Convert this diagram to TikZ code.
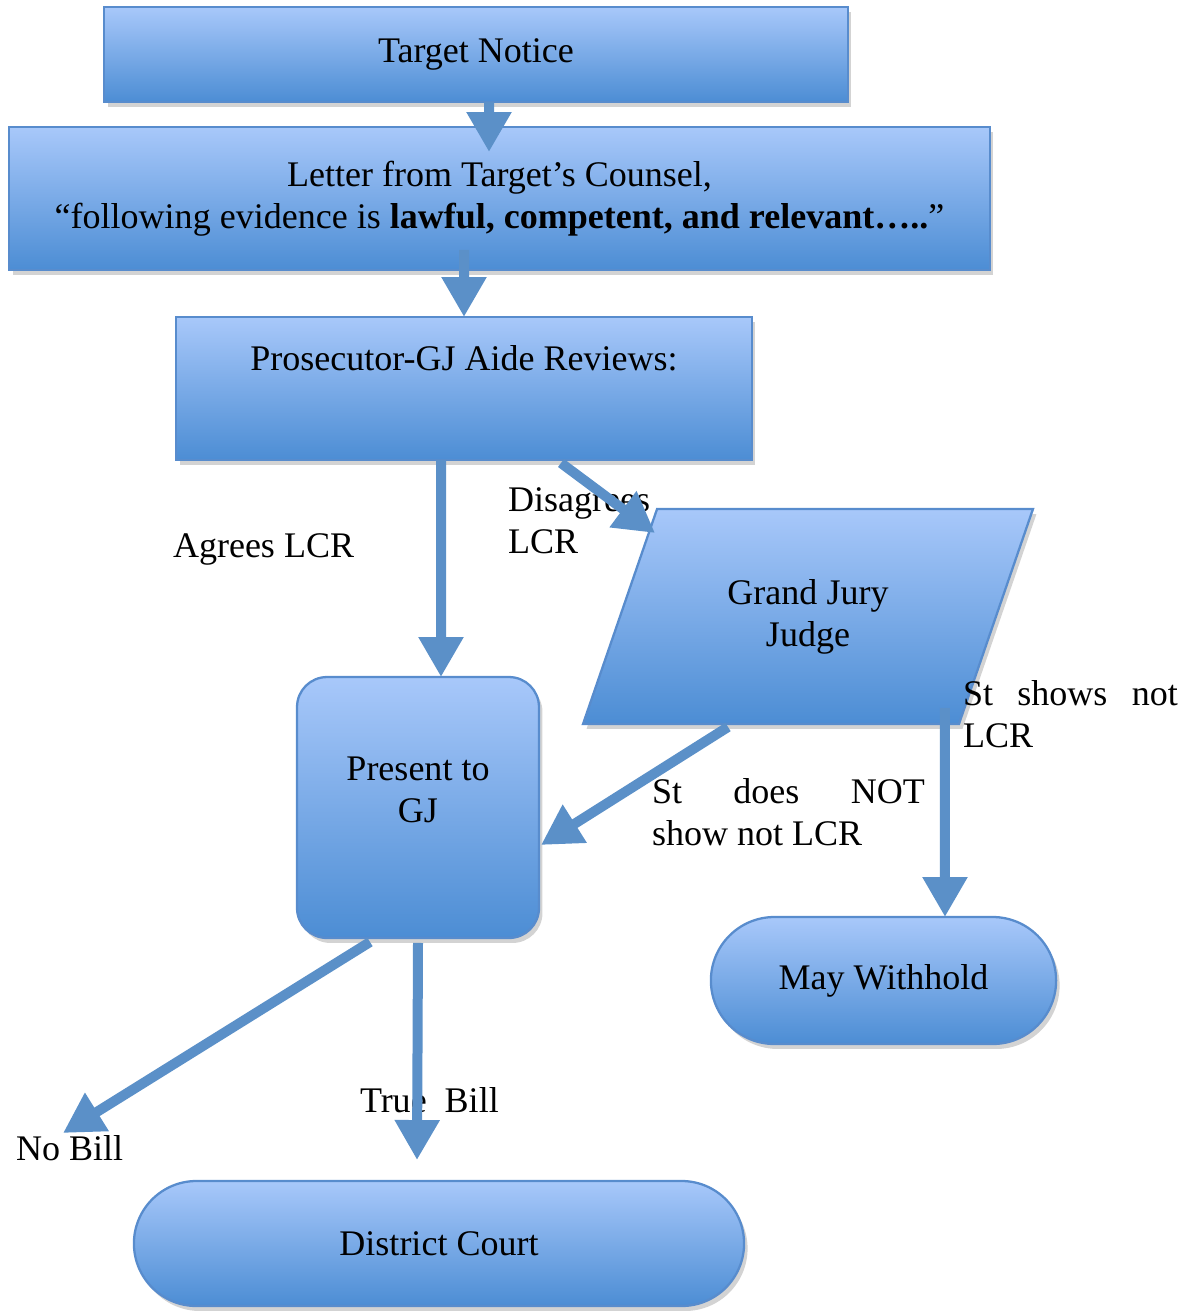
\documentclass[tikz,border=0pt]{standalone}
\usepackage{fontspec}
\setmainfont{Liberation Serif}
\usepackage{xcolor}
\usepackage{tikz}
\usetikzlibrary{shapes,arrows,positioning,calc,shadows,arrows.meta}

\definecolor{boxtop}{RGB}{168,200,250}
\definecolor{boxbot}{RGB}{76,141,212}
\definecolor{boxline}{RGB}{88,140,205}
\definecolor{flowblue}{RGB}{91,144,200}

\begin{document}
\begin{tikzpicture}[
    x=0.02cm, y=-0.02cm,
    outer sep=0pt,
    every node/.style={font=\fontsize{20.5}{24}\selectfont},
    box/.style={draw=boxline, line width=1.3pt, top color=boxtop, bottom color=boxbot, align=center,
        drop shadow={shadow xshift=0.07cm, shadow yshift=-0.1cm, opacity=0.35}},
    flow/.style={draw=flowblue, line width=0.2cm, -{Triangle[width=0.85cm, length=0.8cm]}},
    lbl/.style={anchor=west, inner sep=0pt}
]
    \useasboundingbox (0,0) rectangle (1195,1311);

    % boxes
    \node [box, minimum width=14.88cm, minimum height=1.9cm] (notice) at (476,54.5) {Target Notice};
    \node [box, minimum width=19.62cm, minimum height=2.86cm] (letter) at (499.5,198.5)
        {Letter from Target’s Counsel,\\“following evidence is \textbf{lawful, competent, and relevant…..}”};
    \node [box, minimum width=11.52cm, minimum height=2.86cm] (review) at (464,388.5)
        {Prosecutor-GJ Aide Reviews:\\[4pt]\strut};
    \node [box, trapezium, trapezium left angle=71, trapezium right angle=109, trapezium stretches body,
        minimum width=9cm, inner ysep=1.4cm] (gj) at (808,616.5) {Grand Jury\\Judge};
    \node [box, rounded corners=0.6cm, minimum width=4.84cm, minimum height=5.22cm] (present) at (418,807.5)
        {Present to\\GJ\\[-11pt]\strut};
    \node [box, rounded rectangle, minimum width=7.14cm, minimum height=2.54cm] (withhold) at (883.5,980.5)
        {May Withhold};
    \node [box, rounded rectangle, minimum width=12.44cm, minimum height=2.5cm] (district) at (439,1243.5)
        {District Court};

    % labels
    \node [lbl] (agrees) at (173,549) {Agrees LCR};
    \node [lbl, align=left] (disagrees) at (508,521) {Disagrees\\LCR};
    \node [lbl, align=justify, text width=4.3cm] (stshows) at (963,714) {St shows not\linebreak LCR};
    \node [lbl, align=justify, text width=5.46cm] (stdoes) at (652,812) {St does NOT\linebreak show not LCR};
    \node [lbl] (nobill) at (16,1148) {No Bill};
    \node [lbl] (truebill) at (360,1100) {True~~Bill};
    \coordinate (nobilltip) at (63,1133);

    % arrows
    \draw [flow] ([xshift=0.26cm]notice.south) -- ([xshift=-0.21cm, yshift=-0.5cm]letter.north);
    \draw [flow] ([xshift=-0.71cm, yshift=0.4cm]letter.south) -- (review.north);
    \draw [flow] ([xshift=-0.46cm]review.south) -- ([xshift=0.46cm]present.north);
    \draw [flow] ([xshift=1.94cm, yshift=-0.06cm]review.south) -- ([xshift=-3.06cm, yshift=1.67cm]gj.center);
    \draw [flow] ([xshift=-1.6cm, yshift=-2.21cm]gj.center) -- ([xshift=0.04cm, yshift=-0.75cm]present.east);
    \draw [flow] ([xshift=2.74cm, yshift=-1.83cm]gj.center) -- ([xshift=1.23cm]withhold.north);
    \draw [flow] ([xshift=-0.96cm, yshift=-0.08cm]present.south) -- (nobilltip);
    \draw [flow] ([yshift=-0.1cm]present.south) -- ([xshift=-0.44cm, yshift=0.42cm]district.north);
\end{tikzpicture}
\end{document}
